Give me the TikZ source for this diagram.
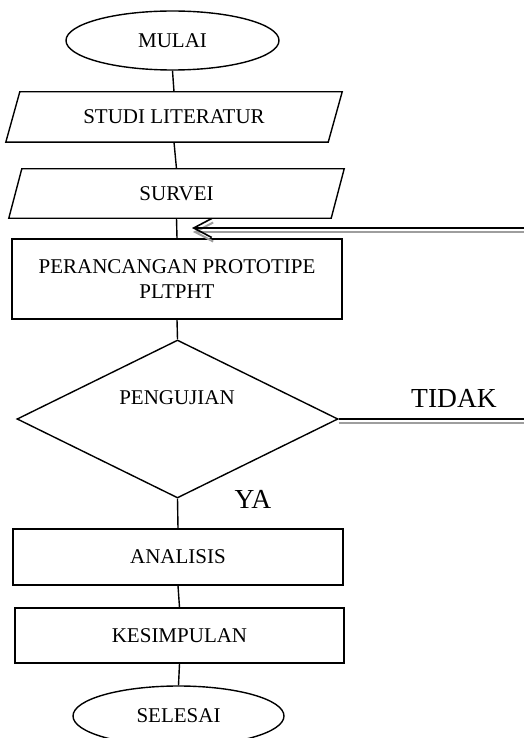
\documentclass[tikz,border=0pt]{standalone}
\usepackage{fontspec}
\setmainfont{Liberation Serif}
\usetikzlibrary{shapes.geometric,arrows.meta}
\begin{document}
\begin{tikzpicture}[x=1pt,y=-1pt,
  every node/.style={font=\fontsize{21}{25.5}\selectfont, inner sep=0pt},
  ln/.style={line width=1.4pt, draw=black},
  oneline/.style={text height=13.9pt, text depth=0pt},
  term/.style={ellipse, ln, oneline, minimum height=60pt},
  iobox/.style={rectangle, oneline, minimum height=50pt, minimum width=336pt},
  proc/.style={rectangle, ln, minimum width=330pt},
  dec/.style={diamond, ln, minimum width=321pt, minimum height=158pt},
  lbl/.style={font=\fontsize{27.5}{30}\selectfont, text height=18.2pt, text depth=0pt},
  shadowline/.style={line width=2pt, draw=black!38},
  barb/.style={-{Straight Barb[length=18pt,width=19pt]}},
]
\clip (0,0) rectangle (524,738);
\fill[white] (0,0) rectangle (524,738);

\node[term, minimum width=213pt, minimum height=59pt] (mulai) at (172.5,40.5) {MULAI};
\node[iobox] (studi) at (174,117) {STUDI LITERATUR};
\node[iobox, minimum width=335pt, minimum height=49pt] (survei) at (176.5,193.5) {SURVEI};
\node[proc, minimum height=80pt, align=center] (rancang) at (177,279) {PERANCANGAN PROTOTIPE\\PLTPHT};
\node[dec] (uji) at (177.5,419) {};
\node[oneline] (ujitext) at (177,398) {PENGUJIAN};
\node[proc, oneline, minimum height=56pt] (analisis) at (178,557) {ANALISIS};
\node[proc, oneline, minimum width=329pt, minimum height=55pt] (kesimpulan) at (179.5,635.5) {KESIMPULAN};
\node[term, minimum width=211pt] (selesai) at (178.5,716) {SELESAI};
\node[lbl] (tidak) at (454,398) {TIDAK};
\node[lbl] (ya) at (253,499) {YA};

% parallelogram outlines around the input/output nodes
\draw[ln] ([xshift=14pt]studi.north west) -- (studi.north east)
  -- ([xshift=-14pt]studi.south east) -- (studi.south west) -- cycle;
\draw[ln] ([xshift=13pt]survei.north west) -- (survei.north east)
  -- ([xshift=-13pt]survei.south east) -- (survei.south west) -- cycle;

\coordinate (farB) at (532,419);
\coordinate (farT) at (532,228);
\coordinate (entry) at (192,228);

\draw[ln] (mulai.south) -- (studi.north);
\draw[ln] (studi.south) -- (survei.north);
\draw[ln] (survei.south) -- (rancang.north);
\draw[ln] (rancang.south) -- (uji.north);
\draw[ln] (uji.south) -- (analisis.north);
\draw[ln] (analisis.south) -- (kesimpulan.north);
\draw[ln] (kesimpulan.south) -- (selesai.north);

\draw[shadowline] ([yshift=-3.5pt]uji.east) -- ([yshift=-3.5pt]farB);
\draw[shadowline, barb] ([shift={(1pt,-4pt)}]farT) -- ([shift={(1pt,-4pt)}]entry);
\draw[ln, line width=1.6pt, barb] (uji.east) -- (farB) -- (farT) -- (entry);
\end{tikzpicture}
\end{document}
